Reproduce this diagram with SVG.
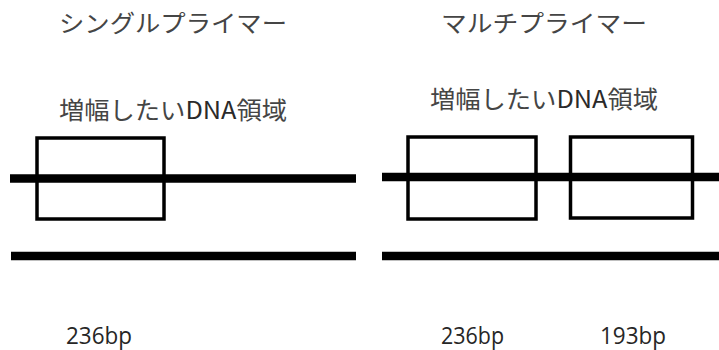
<svg xmlns="http://www.w3.org/2000/svg" width="719" height="350" viewBox="0 0 719 350">
<style>
.jp{font-family:"Noto Sans CJK JP","Noto Sans",sans-serif;font-size:24px;fill:#454545}
.dna{fill:#2a2a2a}
.bp{font-family:"Open Sans","Liberation Sans",sans-serif;font-size:24px;fill:#262626}
.strand{stroke:#000;stroke-width:8.5;fill:none}
.region{fill:none;stroke:#000;stroke-width:3.5}
</style>
<rect width="719" height="350" fill="#fff"/>
<g id="single">
<text class="jp" x="59" y="32" textLength="228" lengthAdjust="spacingAndGlyphs">シングルプライマー</text>
<text class="jp" x="59" y="119" textLength="228" lengthAdjust="spacingAndGlyphs">増幅したい<tspan class="dna">DNA</tspan>領域</text>
<line class="strand" x1="10" y1="178.5" x2="356" y2="178.5"/>
<line class="strand" x1="11" y1="256" x2="356" y2="256"/>
<rect id="region-single" class="region" x="37" y="138" width="127" height="81"/>
<text class="bp" x="66" y="343.5" textLength="66" lengthAdjust="spacingAndGlyphs">236bp</text>
</g>
<g id="multi">
<text class="jp" x="441" y="32" textLength="206" lengthAdjust="spacingAndGlyphs">マルチプライマー</text>
<text class="jp" x="430" y="108" textLength="228" lengthAdjust="spacingAndGlyphs">増幅したい<tspan class="dna">DNA</tspan>領域</text>
<line class="strand" x1="382" y1="177" x2="719" y2="177"/>
<line class="strand" x1="382" y1="256" x2="719" y2="256"/>
<rect id="region-multi-1" class="region" x="408" y="137" width="128" height="82"/>
<rect id="region-multi-2" class="region" x="570.5" y="137" width="122" height="81"/>
<text class="bp" x="441" y="343.5" textLength="63" lengthAdjust="spacingAndGlyphs">236bp</text>
<text class="bp" x="600" y="343.5" textLength="66" lengthAdjust="spacingAndGlyphs">193bp</text>
</g>
<g id="connectors"/>
</svg>
